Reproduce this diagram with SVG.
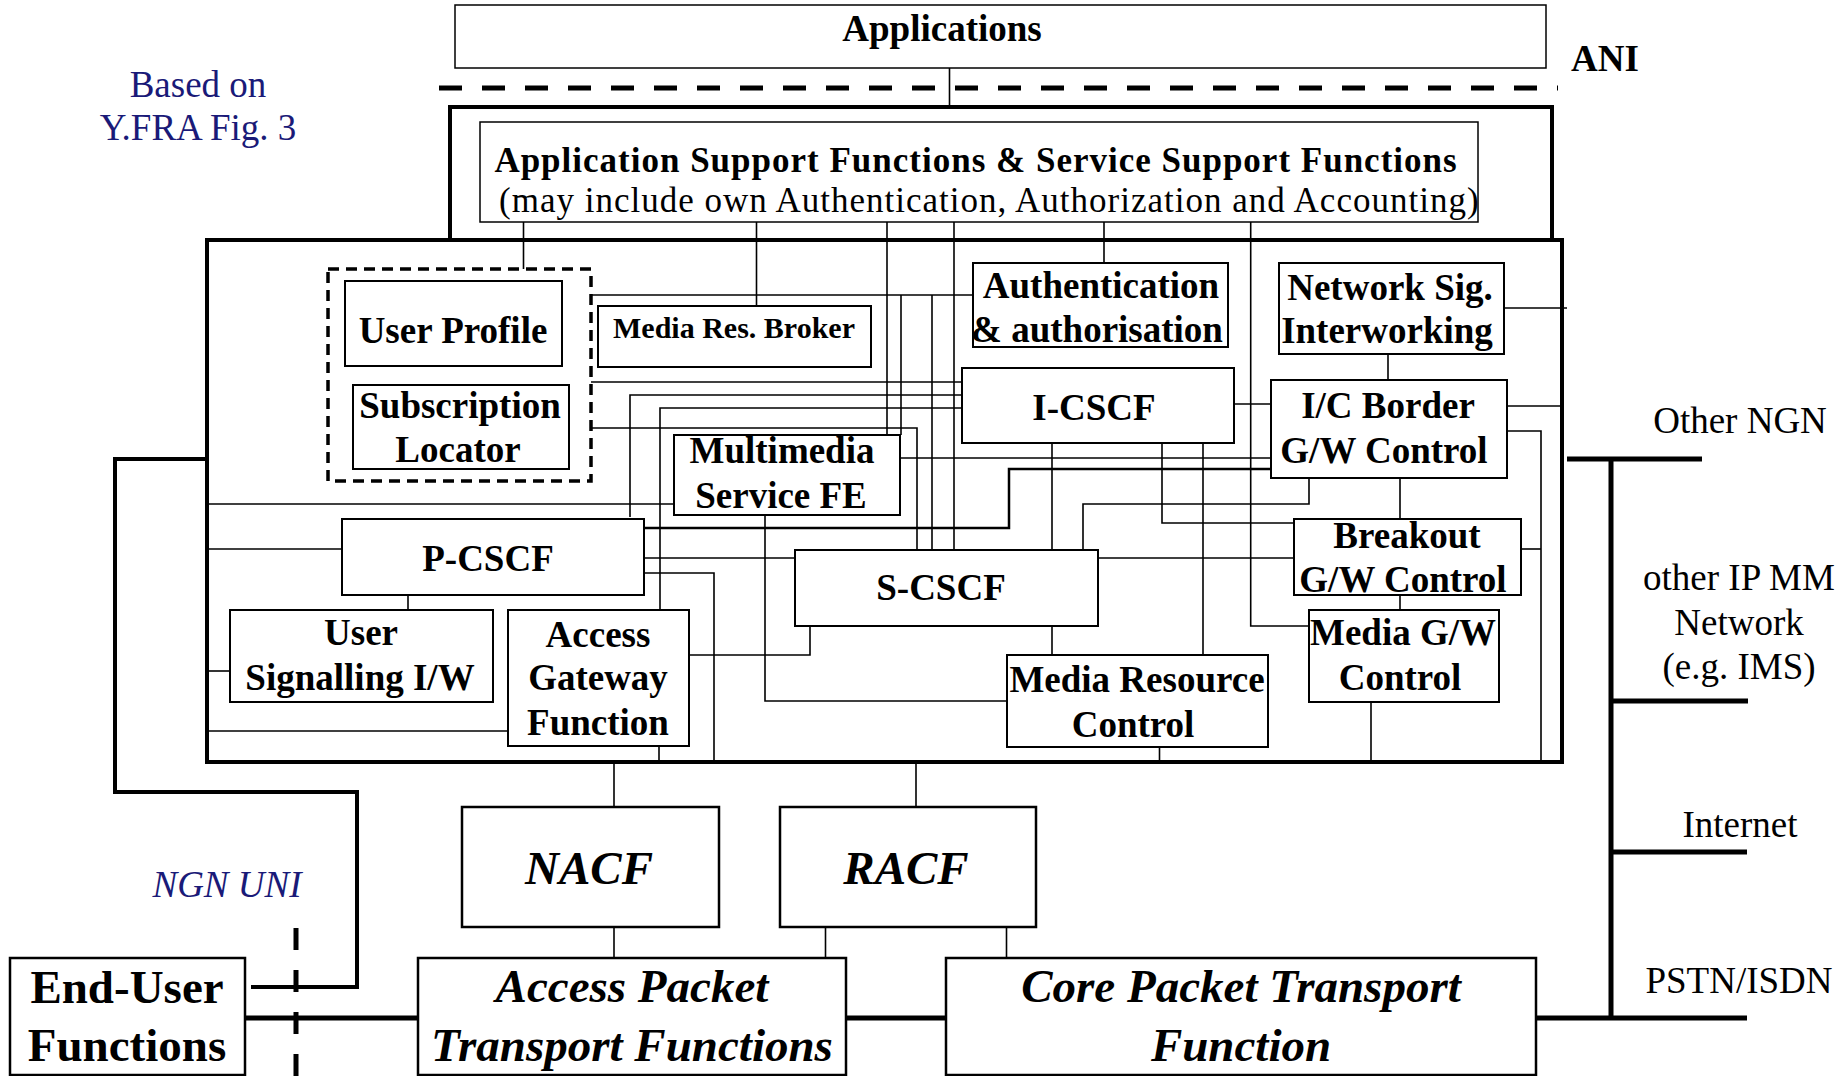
<svg xmlns="http://www.w3.org/2000/svg" width="1846" height="1076" viewBox="0 0 1846 1076">
<style>
text{font-family:"Liberation Serif","Times New Roman",serif;fill:#000;text-anchor:middle}
.b{font-weight:bold;font-size:37px}
.r{font-size:37px}
.s{font-weight:bold;font-size:30px}
.asf{font-size:35px;letter-spacing:1px}
.navy{fill:#1a1a78}
.it{font-style:italic;font-size:37px}
.bi{font-weight:bold;font-style:italic;font-size:47px}
.bb{font-weight:bold;font-size:47px}
.box{fill:#fff;stroke:#000;stroke-width:2}
.big{fill:#fff;stroke:#000;stroke-width:2.5}
.frame{fill:none;stroke:#000;stroke-width:4}
.thinframe{fill:none;stroke:#000;stroke-width:1.5}
.c{fill:none;stroke:#000;stroke-width:1.6}
.c2{fill:none;stroke:#000;stroke-width:2.5}
.bus{fill:none;stroke:#000;stroke-width:5}
.dash{fill:none;stroke:#000;stroke-width:5;stroke-dasharray:23 20}
</style>
<rect width="1846" height="1076" fill="#fff"/>

<g id="labels">
<text class="r navy" x="198" y="97">Based on</text>
<text class="r navy" x="198" y="140">Y.FRA Fig. 3</text>
<text class="it navy" x="227" y="897">NGN UNI</text>
<text class="b" x="1605" y="71">ANI</text>
<text class="r" x="1740" y="433">Other NGN</text>
<text class="r" x="1739" y="590">other IP MM</text>
<text class="r" x="1739" y="635">Network</text>
<text class="r" x="1739" y="679">(e.g. IMS)</text>
<text class="r" x="1740" y="837">Internet</text>
<text class="r" x="1739" y="993">PSTN/ISDN</text>
</g>

<path id="ani" class="dash" d="M439 88 H1558"/>

<g id="applications">
<rect class="thinframe" x="455" y="5" width="1091" height="63"/>
<text class="b" x="942" y="41">Applications</text>
</g>

<g id="asf">
<rect class="frame" x="450" y="107" width="1102" height="133"/>
<rect class="thinframe" x="480" y="122" width="998" height="100"/>
<text class="asf" x="976" y="172" font-weight="bold">Application Support Functions &amp; Service Support Functions</text>
<text class="asf" x="499" y="212" style="text-anchor:start">(may include own Authentication, Authorization and Accounting)</text>
</g>

<g id="service-stratum">
<rect class="frame" x="207" y="240" width="1355" height="522"/>
</g>

<g id="connectors">
<path class="c" d="M949.5 68 V107"/>
<path class="c" d="M523.5 222 V269"/>
<path class="c" d="M756.5 222 V306"/>
<path class="c" d="M887 222 V435"/>
<path class="c" d="M954 222 V550"/>
<path class="c" d="M1104 222 V263"/>
<path class="c" d="M1250.7 222 V626 H1309"/>
<path class="c" d="M591 295 H973"/>
<path class="c" d="M901 295 V435"/>
<path class="c" d="M932 295 V550"/>
<path class="c" d="M591 382 H962"/>
<path class="c" d="M591 428 H917 V550"/>
<path class="c" d="M630 517 V395 H962"/>
<path class="c" d="M660 610 V408 H962"/>
<path class="c" d="M205 504 H674"/>
<path class="c" d="M900 458 H1271"/>
<path class="c2" d="M644 528 H1009 V469 H1271"/>
<path class="c" d="M644 558 H795"/>
<path class="c" d="M1098 558 H1294"/>
<path class="c" d="M644 573 H714 V762"/>
<path class="c" d="M1052 443 V550"/>
<path class="c" d="M1052 626 V655"/>
<path class="c" d="M1083 550 V504 H1309 V478"/>
<path class="c" d="M1162 443 V523 H1294"/>
<path class="c" d="M1203 443 V655"/>
<path class="c" d="M1234 404 H1271"/>
<path class="c" d="M1388 354 V380"/>
<path class="c" d="M1400 478 V519"/>
<path class="c" d="M1400 595 V610"/>
<path class="c" d="M1507 431 H1541 V762"/>
<path class="c" d="M1521 549 H1541"/>
<path class="c" d="M1507 406 H1562"/>
<path class="c" d="M1504 308 H1567"/>
<path class="c" d="M765 515 V701 H1007"/>
<path class="c" d="M810 626 V655 H689"/>
<path class="c" d="M659 746 V762"/>
<path class="c" d="M1159.5 747 V762"/>
<path class="c" d="M1371 702 V762"/>
<path class="c" d="M205 549 H342"/>
<path class="c" d="M205 671 H230"/>
<path class="c" d="M205 731 H508"/>
<path class="c" d="M408 595 V610"/>
<path class="c" d="M614 762 V807"/>
<path class="c" d="M916 762 V807"/>
<path class="c" d="M614 927 V958"/>
<path class="c" d="M825.5 927 V958"/>
<path class="c" d="M1006.5 927 V958"/>
<path class="bus" d="M1567 459 H1702"/>
<path class="bus" d="M1611 459 V1018"/>
<path class="bus" d="M1611 701 H1748"/>
<path class="bus" d="M1611 852 H1747"/>
<path class="bus" d="M245 1018 H418"/>
<path class="bus" d="M846 1018 H946"/>
<path class="bus" d="M1536 1018 H1747"/>
<path class="frame" d="M251 987 H357 V792 H115 V459 H207"/>
<path class="bus" d="M296 928 V1076" style="stroke-dasharray:22 20"/>
</g>

<g id="user-profile-group">
<rect x="328" y="269" width="263" height="212" fill="none" stroke="#000" stroke-width="3.5" stroke-dasharray="11 7"/>
</g>
<g id="user-profile">
<rect class="box" x="345" y="281" width="217" height="85"/>
<text class="b" x="453" y="343">User Profile</text>
</g>
<g id="subscription-locator">
<rect class="box" x="353" y="385" width="216" height="84"/>
<text class="b" x="460" y="418">Subscription</text>
<text class="b" x="458" y="462">Locator</text>
</g>
<g id="media-res-broker">
<rect class="box" x="598" y="306" width="273" height="61"/>
<text class="s" x="734" y="338">Media Res. Broker</text>
</g>
<g id="auth">
<rect class="box" x="973" y="263" width="255" height="84"/>
<text class="b" x="1101" y="298">Authentication</text>
<text class="b" x="1097" y="342">&amp; authorisation</text>
</g>
<g id="network-sig">
<rect class="box" x="1279" y="263" width="225" height="91"/>
<text class="b" x="1390" y="300">Network Sig.</text>
<text class="b" x="1387" y="343">Interworking</text>
</g>
<g id="i-cscf">
<rect class="box" x="962" y="368" width="272" height="75"/>
<text class="b" x="1094" y="420">I-CSCF</text>
</g>
<g id="ic-border">
<rect class="box" x="1271" y="380" width="236" height="98"/>
<text class="b" x="1388" y="418">I/C Border</text>
<text class="b" x="1384" y="463">G/W Control</text>
</g>
<g id="msfe">
<rect class="box" x="674" y="435" width="226" height="80"/>
<text class="b" x="782" y="463">Multimedia</text>
<text class="b" x="781" y="508">Service FE</text>
</g>
<g id="p-cscf">
<rect class="box" x="342" y="519" width="302" height="76"/>
<text class="b" x="488" y="571">P-CSCF</text>
</g>
<g id="s-cscf">
<rect class="box" x="795" y="550" width="303" height="76"/>
<text class="b" x="941" y="600">S-CSCF</text>
</g>
<g id="breakout">
<rect class="box" x="1294" y="519" width="227" height="76"/>
<text class="b" x="1407" y="548">Breakout</text>
<text class="b" x="1403" y="592">G/W Control</text>
</g>
<g id="user-signalling">
<rect class="box" x="230" y="610" width="263" height="92"/>
<text class="b" x="361" y="645">User</text>
<text class="b" x="360" y="690">Signalling I/W</text>
</g>
<g id="agf">
<rect class="box" x="508" y="610" width="181" height="136"/>
<text class="b" x="598" y="647">Access</text>
<text class="b" x="598" y="690">Gateway</text>
<text class="b" x="598" y="735">Function</text>
</g>
<g id="mrc">
<rect class="box" x="1007" y="655" width="261" height="92"/>
<text class="b" x="1137" y="692">Media Resource</text>
<text class="b" x="1133" y="737">Control</text>
</g>
<g id="media-gw">
<rect class="box" x="1309" y="610" width="190" height="92"/>
<text class="b" x="1403" y="645">Media G/W</text>
<text class="b" x="1400" y="690">Control</text>
</g>
<g id="nacf">
<rect class="big" x="462" y="807" width="257" height="120"/>
<text class="bi" x="589" y="884">NACF</text>
</g>
<g id="racf">
<rect class="big" x="780" y="807" width="256" height="120"/>
<text class="bi" x="906" y="884">RACF</text>
</g>
<g id="end-user">
<rect class="big" x="10" y="958" width="235" height="117"/>
<text class="bb" x="127" y="1003">End-User</text>
<text class="bb" x="127" y="1061">Functions</text>
</g>
<g id="access-transport">
<rect class="big" x="418" y="958" width="428" height="117"/>
<text class="bi" x="632" y="1002">Access Packet</text>
<text class="bi" x="632" y="1061">Transport Functions</text>
</g>
<g id="core-transport">
<rect class="big" x="946" y="958" width="590" height="117"/>
<text class="bi" x="1241" y="1002">Core Packet Transport</text>
<text class="bi" x="1241" y="1061">Function</text>
</g>
</svg>
